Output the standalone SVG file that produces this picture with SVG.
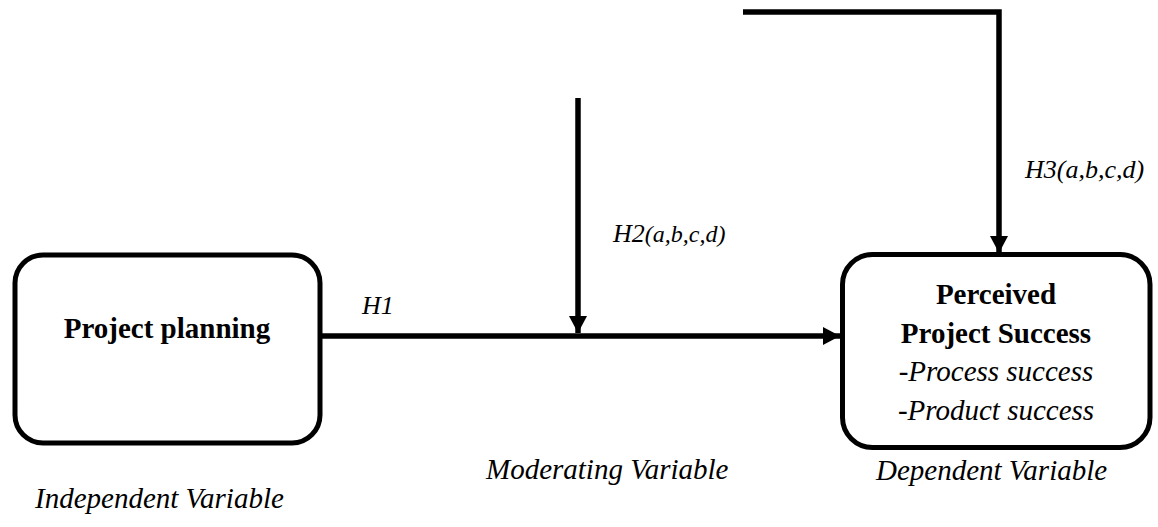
<svg xmlns="http://www.w3.org/2000/svg" width="1158" height="527" viewBox="0 0 1158 527">
  <style>
    text { font-family: "Liberation Serif", "Times New Roman", serif; fill: #000000; }
    .box { fill: #ffffff; stroke: #000000; stroke-width: 5; }
    .conn { fill: none; stroke: #000000; stroke-width: 5.5; stroke-linejoin: miter; }
    .title { font-weight: bold; font-size: 29px; }
    .item { font-style: italic; font-size: 29px; }
    .hyp { font-style: italic; font-size: 26px; }
    .caption { font-style: italic; font-size: 29px; }
  </style>
  <defs>
    <marker id="arrow" viewBox="0 0 17 18" refX="17" refY="9" markerWidth="17" markerHeight="18" markerUnits="userSpaceOnUse" orient="auto">
      <path d="M0,0 L17,9 L0,18 Z" fill="#000000"/>
    </marker>
  </defs>
  <rect width="1158" height="527" fill="#ffffff"/>

  <g id="connectors">
    <!-- H1: planning to success -->
    <path class="conn" d="M321,336 H840" marker-end="url(#arrow)"/>
    <!-- H2: moderator onto the H1 path -->
    <path class="conn" d="M578,98 V333" marker-end="url(#arrow)"/>
    <!-- H3: moderator onto the outcome -->
    <path class="conn" d="M743,12 H999 V253" marker-end="url(#arrow)"/>
  </g>

  <g id="node-planning">
    <rect class="box" x="15" y="255" width="305" height="188" rx="28" ry="28"/>
    <text class="title" x="167" y="338" text-anchor="middle">Project planning</text>
  </g>

  <g id="node-success">
    <rect class="box" x="842.5" y="254.5" width="307.5" height="193" rx="30" ry="30"/>
    <text class="title" x="996" y="304" text-anchor="middle">Perceived</text>
    <text class="title" x="996" y="343" text-anchor="middle">Project Success</text>
    <text class="item" x="996" y="381" text-anchor="middle">-Process success</text>
    <text class="item" x="996" y="420" text-anchor="middle">-Product success</text>
  </g>

  <g id="labels">
    <text class="hyp" x="362" y="314" font-size="27">H1</text>
    <text class="hyp" x="613" y="242">H2<tspan font-size="24">(a,b,c,d)</tspan></text>
    <text class="hyp" x="1025" y="178">H3(a,b,c,d)</text>
  </g>

  <g id="captions">
    <text class="caption" x="35" y="508">Independent Variable</text>
    <text class="caption" x="486" y="479">Moderating Variable</text>
    <text class="caption" x="876" y="480">Dependent Variable</text>
  </g>
</svg>
